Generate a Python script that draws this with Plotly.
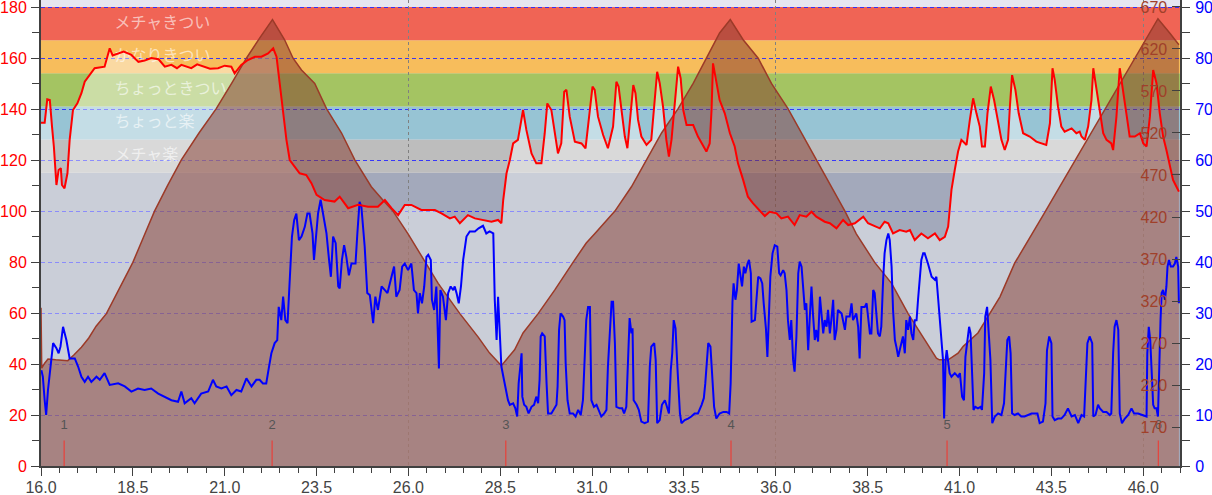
import plotly.graph_objects as go

# ---------------- data ----------------
hr_x = [16.00, 16.10, 16.17, 16.24, 16.30, 16.35, 16.42, 16.48, 16.54, 16.57, 16.64, 16.72, 16.78, 16.87, 16.99,
        17.10, 17.19, 17.37, 17.46, 17.73, 17.87, 17.95, 18.10, 18.25, 18.46, 18.65, 18.82, 19.00, 19.20, 19.37,
        19.55, 19.70, 19.82, 20.09, 20.25, 20.45, 20.60, 20.82, 21.00, 21.18, 21.27, 21.45, 21.63, 21.82, 22.00,
        22.18, 22.32, 22.41, 22.50, 22.59, 22.68, 22.77, 22.91, 23.04, 23.22, 23.36, 23.50, 23.72, 23.99, 24.13,
        24.36, 24.63, 24.90, 25.17, 25.36, 25.54, 25.72, 25.90, 26.08, 26.35, 26.72, 26.90, 27.13, 27.26, 27.40,
        27.62, 27.81, 27.99, 28.26, 28.44, 28.53, 28.58, 28.67, 28.76, 28.85, 28.98, 29.12, 29.21, 29.35, 29.48,
        29.62, 29.71, 29.78, 29.89, 29.98, 30.07, 30.16, 30.24, 30.30, 30.39, 30.53, 30.71, 30.82, 30.89, 31.01,
        31.07, 31.16, 31.30, 31.43, 31.57, 31.66, 31.72, 31.80, 31.89, 31.96, 32.05, 32.12, 32.18, 32.25, 32.34,
        32.48, 32.61, 32.71, 32.77, 32.84, 32.93, 33.02, 33.09, 33.16, 33.25, 33.34, 33.41, 33.48, 33.57, 33.75,
        33.88, 34.02, 34.11, 34.20, 34.25, 34.29, 34.38, 34.47, 34.61, 34.75, 34.88, 34.97, 35.11, 35.24, 35.38,
        35.56, 35.70, 35.83, 36.02, 36.15, 36.33, 36.51, 36.65, 36.83, 36.97, 37.10, 37.33, 37.47, 37.65, 37.83,
        37.97, 38.15, 38.38, 38.51, 38.69, 38.83, 38.96, 39.06, 39.19, 39.37, 39.55, 39.65, 39.78, 39.96, 40.14,
        40.33, 40.46, 40.60, 40.69, 40.73, 40.78, 40.87, 40.96, 41.05, 41.19, 41.28, 41.37, 41.46, 41.55, 41.61,
        41.69, 41.76, 41.85, 41.94, 42.03, 42.14, 42.23, 42.32, 42.37, 42.43, 42.52, 42.61, 42.73, 42.91, 43.09,
        43.27, 43.36, 43.46, 43.53, 43.59, 43.68, 43.77, 43.86, 44.05, 44.18, 44.27, 44.32, 44.41, 44.50, 44.59,
        44.64, 44.73, 44.82, 44.91, 45.00, 45.13, 45.18, 45.27, 45.36, 45.45, 45.54, 45.63, 45.77, 45.91, 46.00,
        46.09, 46.18, 46.27, 46.36, 46.45, 46.54, 46.63, 46.72, 46.81, 46.90, 46.97]
hr_y = [134.6, 134.6, 143.8, 143.5, 133.1, 125.3, 110.2, 116.1, 116.8, 110.2, 108.9, 114.8, 127.9, 139.6, 142.2,
        146.2, 150.7, 154.0, 156.0, 156.6, 163.8, 161.0, 161.8, 162.5, 161.2, 158.5, 159.0, 160.0, 159.5, 156.6,
        157.3, 156.0, 157.3, 156.0, 157.5, 156.6, 155.8, 156.0, 157.0, 156.6, 154.0, 157.3, 159.2, 160.5, 160.5,
        161.8, 163.8, 160.5, 150.1, 139.6, 127.9, 120.0, 117.4, 114.8, 114.1, 110.9, 106.3, 104.3, 103.7, 105.6,
        101.1, 102.4, 101.7, 101.7, 104.3, 101.1, 98.4, 102.4, 102.4, 100.4, 100.4, 99.1, 97.1, 97.8, 95.2,
        98.4, 97.1, 96.5, 95.8, 96.5, 95.2, 104.3, 114.8, 120.0, 126.5, 127.9, 139.6, 131.8, 122.6, 118.7,
        118.7, 130.5, 142.2, 139.6, 130.5, 122.6, 126.5, 146.8, 147.5, 137.0, 127.2, 126.5, 124.6, 133.1, 148.8,
        147.5, 137.0, 129.8, 124.6, 133.1, 150.7, 148.8, 139.6, 129.2, 124.6, 137.0, 149.4, 146.2, 135.7, 129.2,
        125.9, 127.9, 143.5, 154.6, 150.1, 140.9, 127.9, 121.3, 127.9, 143.5, 156.6, 152.0, 139.6, 133.7, 133.7,
        129.2, 125.3, 123.3, 126.5, 139.6, 157.9, 151.4, 143.5, 138.3, 130.5, 125.3, 118.7, 112.2, 105.6, 103.0,
        100.4, 98.0, 99.7, 99.1, 97.1, 97.8, 94.5, 98.4, 97.8, 99.7, 97.8, 95.8, 95.2, 93.2, 96.5,
        94.5, 95.2, 97.8, 95.2, 93.9, 93.2, 95.8, 95.2, 91.2, 92.5, 91.9, 92.5, 88.6, 91.2, 89.3,
        91.2, 88.6, 89.9, 93.9, 101.7, 108.3, 116.1, 123.3, 127.9, 125.9, 135.7, 144.2, 138.3, 133.1, 125.3,
        125.3, 138.3, 148.8, 143.5, 135.7, 127.9, 123.9, 127.9, 140.9, 153.3, 147.5, 138.3, 130.5, 129.2, 127.2,
        126.5, 125.9, 134.4, 156.0, 151.4, 140.9, 133.1, 131.1, 132.4, 130.5, 131.1, 129.2, 127.9, 133.1, 143.5,
        156.0, 147.5, 138.3, 130.5, 127.9, 126.5, 123.9, 137.0, 156.0, 146.2, 138.3, 129.2, 129.2, 130.5, 126.5,
        125.3, 137.0, 155.3, 150.1, 138.3, 129.2, 123.9, 117.4, 112.2, 109.6, 107.6]

spd_x = [16.01, 16.05, 16.10, 16.14, 16.19, 16.26, 16.33, 16.42, 16.48, 16.53, 16.60, 16.69, 16.78, 16.92, 17.01,
         17.10, 17.19, 17.28, 17.37, 17.51, 17.60, 17.73, 17.87, 18.10, 18.28, 18.46, 18.64, 18.82, 19.00, 19.19,
         19.37, 19.55, 19.73, 19.82, 19.91, 20.09, 20.18, 20.36, 20.55, 20.68, 20.77, 20.91, 21.05, 21.18, 21.32,
         21.45, 21.59, 21.73, 21.86, 21.95, 22.04, 22.13, 22.20, 22.27, 22.36, 22.43, 22.47, 22.54, 22.59, 22.65,
         22.71, 22.77, 22.83, 22.89, 22.95, 23.02, 23.09, 23.18, 23.25, 23.31, 23.39, 23.43, 23.50, 23.54, 23.61,
         23.68, 23.77, 23.84, 23.89, 23.95, 24.02, 24.09, 24.13, 24.19, 24.25, 24.31, 24.38, 24.45, 24.56, 24.61,
         24.67, 24.72, 24.81, 24.88, 24.95, 25.04, 25.10, 25.17, 25.27, 25.36, 25.43, 25.54, 25.61, 25.67, 25.76,
         25.83, 25.90, 25.99, 26.08, 26.15, 26.22, 26.26, 26.31, 26.37, 26.43, 26.49, 26.54, 26.61, 26.64, 26.70,
         26.76, 26.83, 26.87, 26.94, 27.02, 27.08, 27.15, 27.22, 27.26, 27.31, 27.37, 27.43, 27.49, 27.58, 27.67,
         27.81, 27.91, 28.03, 28.12, 28.21, 28.31, 28.35, 28.40, 28.44, 28.49, 28.53, 28.60, 28.67, 28.71, 28.76,
         28.85, 28.91, 28.96, 29.00, 29.05, 29.08, 29.10, 29.15, 29.21, 29.27, 29.35, 29.42, 29.48, 29.53, 29.57,
         29.60, 29.64, 29.71, 29.76, 29.80, 29.89, 29.96, 30.03, 30.06, 30.10, 30.14, 30.21, 30.25, 30.28, 30.33,
         30.39, 30.48, 30.55, 30.62, 30.69, 30.75, 30.80, 30.84, 30.89, 30.94, 30.98, 31.05, 31.12, 31.18, 31.25,
         31.33, 31.39, 31.43, 31.48, 31.53, 31.57, 31.62, 31.66, 31.75, 31.82, 31.87, 31.93, 31.98, 32.02, 32.07,
         32.10, 32.13, 32.21, 32.27, 32.34, 32.43, 32.52, 32.57, 32.61, 32.69, 32.73, 32.77, 32.84, 32.90, 32.98,
         33.02, 33.09, 33.14, 33.18, 33.22, 33.27, 33.32, 33.39, 33.43, 33.52, 33.61, 33.70, 33.79, 33.88, 33.98,
         34.04, 34.08, 34.16, 34.22, 34.27, 34.32, 34.38, 34.47, 34.57, 34.66, 34.73, 34.77, 34.82, 34.85, 34.90,
         34.94, 34.99, 35.04, 35.08, 35.13, 35.17, 35.23, 35.27, 35.32, 35.34, 35.43, 35.47, 35.52, 35.58, 35.63,
         35.67, 35.73, 35.77, 35.81, 35.85, 35.91, 35.97, 36.04, 36.09, 36.13, 36.20, 36.24, 36.29, 36.33, 36.38,
         36.42, 36.47, 36.51, 36.56, 36.61, 36.65, 36.70, 36.74, 36.79, 36.83, 36.88, 36.92, 36.97, 37.01, 37.06,
         37.10, 37.15, 37.20, 37.24, 37.29, 37.33, 37.38, 37.42, 37.47, 37.51, 37.56, 37.60, 37.65, 37.69, 37.79,
         37.88, 37.92, 38.01, 38.06, 38.10, 38.19, 38.24, 38.28, 38.33, 38.42, 38.47, 38.51, 38.56, 38.60, 38.65,
         38.69, 38.74, 38.78, 38.83, 38.87, 38.92, 38.96, 39.01, 39.06, 39.10, 39.15, 39.19, 39.24, 39.28, 39.33,
         39.37, 39.42, 39.46, 39.51, 39.55, 39.60, 39.65, 39.69, 39.74, 39.78, 39.83, 39.87, 39.92, 39.96, 40.01,
         40.05, 40.14, 40.24, 40.33, 40.37, 40.42, 40.46, 40.51, 40.55, 40.58, 40.62, 40.65, 40.69, 40.73, 40.78,
         40.87, 40.96, 41.01, 41.07, 41.12, 41.16, 41.20, 41.26, 41.30, 41.34, 41.38, 41.43, 41.50, 41.57, 41.61,
         41.67, 41.70, 41.75, 41.79, 41.84, 41.89, 41.96, 42.05, 42.14, 42.21, 42.26, 42.30, 42.35, 42.39, 42.43,
         42.50, 42.59, 42.68, 42.77, 42.87, 42.96, 43.05, 43.12, 43.18, 43.27, 43.34, 43.38, 43.44, 43.50, 43.53,
         43.59, 43.68, 43.77, 43.86, 43.95, 44.05, 44.14, 44.23, 44.32, 44.39, 44.44, 44.48, 44.54, 44.61, 44.64,
         44.70, 44.77, 44.82, 44.91, 45.00, 45.09, 45.13, 45.18, 45.22, 45.27, 45.32, 45.36, 45.42, 45.50, 45.59,
         45.68, 45.75, 45.86, 46.00, 46.09, 46.11, 46.15, 46.19, 46.22, 46.27, 46.31, 46.36, 46.40, 46.43, 46.47,
         46.50, 46.54, 46.59, 46.63, 46.66, 46.70, 46.75, 46.81, 46.86, 46.90, 46.95, 46.97]
spd_y = [18.8, 17.5, 12.9, 10.0, 14.9, 19.5, 24.1, 23.1, 22.1, 23.4, 27.3, 24.7, 21.1, 21.1, 19.5,
         17.5, 16.5, 17.5, 16.5, 17.5, 16.9, 18.2, 15.9, 16.2, 15.6, 14.6, 15.2, 14.9, 15.2, 14.2,
         13.6, 12.9, 12.6, 14.6, 12.3, 13.3, 12.3, 14.2, 14.6, 16.9, 15.6, 15.2, 15.6, 13.9, 14.9,
         14.6, 17.2, 15.6, 16.9, 16.9, 16.2, 16.2, 19.2, 22.1, 24.1, 24.7, 31.2, 28.6, 33.2, 28.6,
         28.0, 36.5, 45.0, 48.2, 49.5, 44.3, 45.0, 46.9, 49.5, 49.5, 45.6, 40.4, 45.6, 49.5, 52.2,
         49.5, 45.6, 40.4, 37.1, 45.0, 43.7, 35.2, 34.8, 40.4, 43.3, 41.0, 37.4, 39.7, 39.7, 45.6,
         51.8, 50.8, 43.0, 33.9, 33.5, 28.0, 33.2, 30.6, 35.2, 34.5, 33.9, 37.1, 39.1, 33.2, 34.5,
         39.1, 39.7, 38.4, 39.7, 34.5, 33.9, 29.9, 33.9, 31.9, 35.2, 41.0, 41.4, 40.4, 32.6, 30.6,
         35.2, 19.1, 34.5, 33.2, 28.6, 33.9, 35.2, 34.5, 35.2, 33.9, 31.9, 35.2, 40.4, 45.0, 46.0,
         46.0, 46.6, 47.1, 45.6, 46.0, 45.6, 32.6, 24.7, 33.2, 23.4, 19.5, 16.9, 14.6, 12.9, 12.0,
         12.3, 11.3, 9.7, 16.2, 19.5, 22.1, 13.6, 12.0, 11.6, 10.3, 11.6, 12.0, 13.6, 12.3, 16.9,
         25.4, 26.0, 25.4, 16.2, 10.3, 10.3, 11.3, 12.0, 15.6, 26.7, 29.9, 29.3, 28.6, 20.1, 12.9,
         10.3, 10.3, 9.7, 11.0, 10.0, 12.9, 20.8, 28.6, 31.2, 31.2, 12.9, 11.6, 12.0, 11.0, 9.7,
         10.3, 11.0, 19.5, 26.0, 32.2, 32.2, 24.1, 11.6, 11.3, 11.3, 10.3, 11.6, 20.8, 29.0, 26.0,
         27.0, 12.9, 12.0, 11.0, 8.7, 8.4, 8.7, 19.5, 23.4, 24.1, 20.8, 8.4, 9.0, 12.0, 12.9,
         12.0, 10.3, 18.8, 22.1, 28.6, 27.0, 19.5, 10.3, 8.4, 9.0, 9.3, 9.7, 10.3, 10.3, 12.0,
         13.3, 16.2, 24.1, 23.4, 18.2, 11.6, 9.3, 10.3, 10.6, 10.6, 10.3, 16.2, 32.2, 35.8, 32.6,
         34.5, 39.7, 37.1, 35.2, 39.1, 37.8, 39.7, 40.4, 37.8, 28.3, 28.6, 33.2, 37.1, 36.8, 35.8,
         31.9, 27.0, 21.4, 29.9, 37.1, 41.7, 43.3, 43.0, 37.8, 37.4, 38.4, 37.8, 34.5, 28.6, 24.7,
         28.6, 20.8, 18.5, 25.4, 37.8, 40.1, 39.1, 34.5, 30.6, 31.9, 22.7, 28.6, 35.2, 29.9, 24.7,
         26.7, 24.4, 33.2, 29.9, 26.0, 28.6, 27.3, 30.6, 26.0, 28.6, 32.6, 24.7, 26.7, 30.6, 29.9,
         26.7, 29.3, 29.3, 31.9, 28.6, 29.9, 27.3, 21.1, 31.2, 31.2, 31.9, 28.6, 26.0, 26.0, 34.5,
         33.9, 28.6, 26.0, 25.4, 27.3, 36.5, 41.7, 44.3, 45.6, 44.3, 39.1, 30.6, 24.7, 23.4, 21.4,
         22.7, 24.1, 25.4, 22.1, 28.6, 26.7, 29.3, 26.0, 24.7, 28.6, 28.6, 32.6, 37.8, 40.4, 41.7,
         41.7, 39.7, 37.1, 36.5, 37.1, 32.6, 28.6, 23.4, 20.8, 9.3, 20.8, 22.7, 20.1, 18.2, 17.5,
         18.2, 17.5, 18.2, 13.6, 12.9, 21.4, 23.4, 27.3, 26.0, 19.5, 11.0, 11.6, 11.3, 11.6, 11.0,
         18.2, 29.3, 31.2, 26.0, 20.8, 8.4, 9.7, 10.3, 10.0, 12.3, 20.1, 24.7, 25.4, 22.1, 10.3,
         10.0, 10.3, 9.7, 9.7, 10.0, 10.3, 10.3, 10.3, 8.4, 8.7, 12.3, 22.7, 25.4, 24.1, 9.7,
         9.0, 9.3, 9.3, 10.0, 11.3, 9.7, 10.0, 8.4, 10.0, 9.7, 16.9, 24.1, 25.4, 24.1, 9.7,
         10.0, 12.0, 11.3, 10.6, 10.6, 10.0, 10.3, 22.1, 27.3, 28.6, 26.7, 10.3, 8.4, 9.3, 10.0,
         11.3, 10.3, 10.3, 10.0, 9.7, 22.1, 27.3, 24.7, 20.1, 12.0, 11.3, 11.3, 9.7, 20.1, 28.6,
         33.9, 34.5, 32.6, 35.2, 39.1, 40.4, 39.1, 39.1, 39.7, 41.0, 39.1, 31.9]

ele_x = [16.00, 16.02, 16.10, 16.19, 16.40, 16.60, 16.73, 16.90, 17.10, 17.30, 17.50, 17.78, 18.10, 18.50, 18.80,
         19.09, 19.45, 19.82, 20.30, 20.77, 21.20, 21.59, 21.95, 22.30, 22.63, 22.86, 23.09, 23.45, 23.77, 24.18,
         24.54, 24.99, 25.31, 25.58, 25.99, 26.45, 26.81, 27.40, 27.90, 28.21, 28.53, 28.89, 29.12, 29.53, 29.98,
         30.48, 30.84, 31.07, 31.62, 32.07, 32.48, 32.89, 33.34, 33.75, 34.11, 34.47, 34.76, 35.11, 35.52, 35.88,
         36.33, 36.70, 37.10, 37.51, 37.88, 38.19, 38.69, 39.15, 39.60, 40.05, 40.37, 40.45, 40.69, 40.96, 41.10,
         41.50, 41.82, 42.10, 42.50, 42.90, 43.30, 43.70, 44.10, 44.50, 44.90, 45.30, 45.72, 46.13, 46.40, 46.72,
         46.97]
ele_y = [312, 240, 246, 251, 250, 249, 249, 256, 265, 276, 290, 305, 333, 366, 397,
         427, 458, 488, 520, 549, 580, 609, 633, 655, 631, 609, 595, 579, 549, 520,
         488, 456, 440, 427, 400, 366, 341, 305, 277, 258, 243, 262, 282, 305, 333,
         366, 389, 400, 427, 456, 488, 520, 549, 579, 609, 639, 655, 631, 609, 579,
         549, 520, 488, 456, 427, 400, 366, 341, 305, 274, 252, 250, 250, 258, 266,
         282, 305, 325, 365, 394, 424, 454, 484, 514, 544, 574, 605, 636, 656, 639,
         625]

lap_x = [16.63, 22.29, 28.65, 34.78, 40.66, 46.41]
lap_labels = ["1", "2", "3", "4", "5", "6"]

zone_bounds = [115, 128, 141, 154, 167, 180]
zone_names = ["メチャ楽", "ちょっと楽", "ちょっときつい", "かなりきつい", "メチャきつい"]

x_range = [16.0, 47.0]
hr_range = [0, 182.75]
spd_range = [0, 91.375]
ele_range = [123.6, 678.3]

# ---------------- styles ----------------
zone_colors = ["#bdbdbd", "#97c4d4", "#a4c462", "#f7bd5c", "#f06455"]
base_color = "#a3a9bb"
top_color = "#e6e6f0"
axis_col = "#404040"
FONT = "Liberation Sans"
JP_FONT = "Noto Sans CJK JP"
LAP_TICK_H = 10
LAP_LABEL_Y = 15.7
ZONE_LABEL_X = 18.0

fig = go.Figure()

# white overlay under HR curve
fig.add_trace(go.Scatter(x=hr_x, y=hr_y, mode="lines", fill="tozeroy",
                         fillcolor="rgba(255,255,255,0.43)", line=dict(width=0),
                         xaxis="x", yaxis="y", hoverinfo="skip"))
# zone labels
zone_mid = [(zone_bounds[i] + zone_bounds[i + 1]) / 2 for i in range(len(zone_names))]
fig.add_trace(go.Scatter(x=[ZONE_LABEL_X] * len(zone_names), y=zone_mid, mode="text",
                         text=zone_names, textposition="middle right",
                         textfont=dict(family=JP_FONT, size=16, color="rgba(255,255,255,0.6)"),
                         xaxis="x", yaxis="y", hoverinfo="skip"))
# helper trace for vertical grid axis
fig.add_trace(go.Scatter(x=[], y=[], xaxis="x2", yaxis="y", hoverinfo="skip"))
# elevation
fig.add_trace(go.Scatter(x=ele_x, y=ele_y, mode="lines", fill="tozeroy",
                         fillcolor="rgba(131,55,44,0.5)", line=dict(color="#9c3a28", width=1.5),
                         xaxis="x", yaxis="y2", hoverinfo="skip"))
# speed
fig.add_trace(go.Scatter(x=spd_x, y=spd_y, mode="lines", line=dict(color="#0000ff", width=2),
                         xaxis="x", yaxis="y3", hoverinfo="skip"))
# heart rate
fig.add_trace(go.Scatter(x=hr_x, y=hr_y, mode="lines", line=dict(color="#ff0000", width=2),
                         xaxis="x", yaxis="y4", hoverinfo="skip"))
# lap markers
lx, ly = [], []
for v in lap_x:
    lx += [v, v, None]
    ly += [0, LAP_TICK_H, None]
fig.add_trace(go.Scatter(x=lx, y=ly, mode="lines", line=dict(color="#e8413a", width=1.2),
                         xaxis="x", yaxis="y4", hoverinfo="skip"))
fig.add_trace(go.Scatter(x=lap_x, y=[LAP_LABEL_Y] * len(lap_x), mode="text", text=lap_labels,
                         textfont=dict(family=FONT, size=13, color="#555555"),
                         xaxis="x", yaxis="y4", hoverinfo="skip"))

shapes = [dict(type="rect", xref="paper", x0=0, x1=1, yref="y", y0=0, y1=zone_bounds[0],
               fillcolor=base_color, line=dict(width=0), layer="below")]
for i in range(len(zone_names)):
    shapes.append(dict(type="rect", xref="paper", x0=0, x1=1, yref="y",
                       y0=zone_bounds[i], y1=zone_bounds[i + 1],
                       fillcolor=zone_colors[i], line=dict(width=0), layer="below"))

fig.update_layout(
    width=1212, height=495, autosize=False,
    margin=dict(l=41, r=32, t=0, b=29, pad=0),
    paper_bgcolor="white", plot_bgcolor=top_color,
    showlegend=False, hovermode=False,
    shapes=shapes,
    xaxis=dict(range=x_range, tick0=16, dtick=2.5, tickformat=".1f",
               ticks="outside", ticklen=8, tickcolor=axis_col, tickwidth=1,
               minor=dict(tick0=16, dtick=0.5, ticks="outside", ticklen=5, tickcolor=axis_col, showgrid=False),
               showline=True, linecolor=axis_col, linewidth=2, showgrid=False, zeroline=False,
               tickfont=dict(family=FONT, size=16, color="#444444"), ticklabelstandoff=-2,
               ticklabeloverflow="allow", automargin=False, anchor="y"),
    xaxis2=dict(range=x_range, overlaying="x", anchor="y", tick0=16, dtick=10,
                showgrid=True, gridcolor="#808080", griddash="3px,3px", gridwidth=1,
                showticklabels=False, ticks="", showline=False, zeroline=False, automargin=False),
    yaxis=dict(range=hr_range, tick0=0, dtick=20, ticks="outside", ticklen=8, tickcolor=axis_col,
               minor=dict(dtick=10, ticks="outside", ticklen=7, tickcolor=axis_col, showgrid=False),
               showgrid=True, gridcolor="rgba(40,40,255,0.9)", griddash="4px,3px", gridwidth=1,
               showline=True, linecolor=axis_col, linewidth=2, zeroline=False,
               tickfont=dict(family=FONT, size=16, color="#ff0000"), ticklabelstandoff=1,
               ticklabeloverflow="allow", automargin=False),
    yaxis2=dict(range=ele_range, overlaying="y", side="right", anchor="x",
                tick0=170, dtick=50, ticks="inside", ticklen=8, tickcolor=axis_col,
                ticklabelposition="inside", ticklabeloverflow="allow", ticklabelstandoff=5,
                showgrid=False, showline=False, zeroline=False, automargin=False,
                tickfont=dict(family=FONT, size=16, color="#a0402a")),
    yaxis3=dict(range=spd_range, overlaying="y", side="right", anchor="x",
                tick0=0, dtick=10, ticks="outside", ticklen=8, tickcolor=axis_col,
                minor=dict(dtick=5, ticks="outside", ticklen=8, tickcolor=axis_col, showgrid=False),
                showgrid=False, showline=True, linecolor=axis_col, linewidth=2, zeroline=False,
                tickfont=dict(family=FONT, size=16, color="#0000ff"), ticklabeloverflow="allow",
                ticklabelstandoff=2, automargin=False),
    yaxis4=dict(range=hr_range, overlaying="y", matches="y", visible=False, automargin=False),
)

fig.write_html("out.html",
               config={"displayModeBar": False, "staticPlot": True},
               post_script="document.body.style.margin='0';document.body.style.overflow='hidden';")
